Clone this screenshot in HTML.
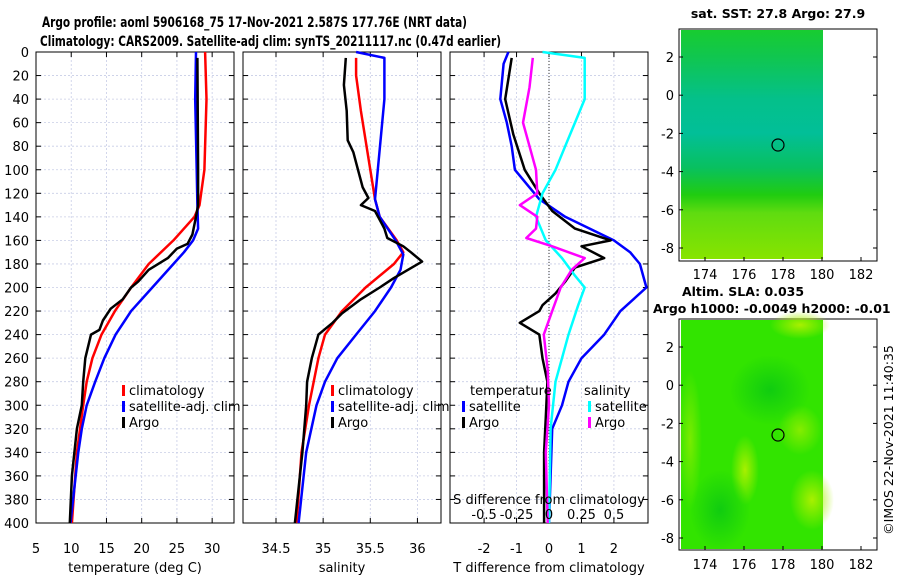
<!DOCTYPE html>
<html><head><meta charset="utf-8"><style>
body{margin:0;background:#fff;}
svg{display:block;font-family:"DejaVu Sans","Liberation Sans",sans-serif;}
</style></head><body>
<svg id="fig" width="900" height="580" viewBox="0 0 900 580">
<defs>
<linearGradient id="sstg" x1="0" y1="0" x2="0" y2="1">
<stop offset="0" stop-color="#18cc30"/><stop offset="0.12" stop-color="#10c650"/><stop offset="0.3" stop-color="#04c08a"/><stop offset="0.45" stop-color="#02bf98"/><stop offset="0.6" stop-color="#08c060"/><stop offset="0.72" stop-color="#20cc10"/><stop offset="0.8" stop-color="#60dc10"/><stop offset="1" stop-color="#88e400"/>
</linearGradient>
<radialGradient id="slab" cx="0.5" cy="0.5" r="0.5"><stop offset="0" stop-color="#a8f000"/><stop offset="1" stop-color="#a8f000" stop-opacity="0"/></radialGradient>
<radialGradient id="slad" cx="0.5" cy="0.5" r="0.5"><stop offset="0" stop-color="#10cc10"/><stop offset="1" stop-color="#10cc10" stop-opacity="0"/></radialGradient>
</defs>
<text x="42" y="27" font-size="14.5" font-weight="bold" textLength="425" lengthAdjust="spacingAndGlyphs">Argo profile: aoml 5906168_75 17-Nov-2021 2.587S 177.76E (NRT data)</text>
<text x="40" y="46" font-size="14.5" font-weight="bold" textLength="461" lengthAdjust="spacingAndGlyphs">Climatology: CARS2009. Satellite-adj clim: synTS_20211117.nc (0.47d earlier)</text>
<g id="plots"></g>
<g>
<text x="778" y="18" font-size="12.5" font-weight="bold" text-anchor="middle">sat. SST: 27.8 Argo: 27.9</text>
<rect x="679" y="29" width="198" height="232" fill="#fff" stroke="#000" stroke-width="1"/>
<rect x="681" y="30" width="142" height="229" fill="url(#sstg)"/>
<circle cx="778" cy="145" r="6" fill="none" stroke="#000" stroke-width="1.2"/>
</g>
<g>
<text x="743" y="296" font-size="12.5" font-weight="bold" text-anchor="middle">Altim. SLA: 0.035</text>
<text x="653" y="313" font-size="12.5" font-weight="bold">Argo h1000: -0.0049 h2000: -0.01</text>
<rect x="679" y="319" width="198" height="231" fill="#fff" stroke="#000" stroke-width="1"/>
<rect x="681" y="320" width="142" height="229" fill="#32e400"/>
<ellipse cx="800" cy="325" rx="30" ry="14" fill="url(#slab)"/>
<ellipse cx="812" cy="500" rx="22" ry="30" fill="url(#slab)"/>
<ellipse cx="745" cy="470" rx="14" ry="35" fill="url(#slab)"/>
<ellipse cx="690" cy="440" rx="12" ry="70" fill="url(#slab)" opacity="0.6"/>
<ellipse cx="800" cy="430" rx="22" ry="25" fill="url(#slab)" opacity="0.7"/>
<ellipse cx="770" cy="390" rx="40" ry="35" fill="url(#slad)"/>
<ellipse cx="720" cy="510" rx="30" ry="40" fill="url(#slad)"/>
<circle cx="778" cy="435" r="6" fill="none" stroke="#000" stroke-width="1.2"/>
</g>
<text transform="translate(893,440) rotate(-90)" font-size="12.5" text-anchor="middle">©IMOS 22-Nov-2021 11:40:35</text>
</svg>
<script>
const depthTicks=[0,20,40,60,80,100,120,140,160,180,200,220,240,260,280,300,320,340,360,380,400];
const tempTicks=[5,10,15,20,25,30];
const salTicks=[34.5,35,35.5,36];
const tdiffTicks=[-2,-1,0,1,2];
const sdiffTicks=[-0.5,-0.25,0,0.25,0.5];
const tClimDepth=[0,40,100,130,140,160,180,200,220,240,260,280,300,340,400];
const tClim=[29.0,29.2,28.9,28.2,27.5,24.5,21,18.5,16.2,14.3,13,12.2,11.7,10.8,10.1];
const tSatDepth=[0,40,100,130,150,160,170,180,200,220,240,260,280,300,320,340,400];
const tSat=[27.7,27.6,27.8,27.9,28,27.3,26,24.5,21.5,18.5,16.3,14.7,13.4,12.2,11.5,11,9.9];
const tArgoDepth=[5,100,130,140,155,163,167,175,185,195,200,210,218,228,236,240,260,280,300,320,360,400];
const tArgo=[27.9,28,28,27.7,27.2,26.5,25,23.7,21,19.5,18.5,17.3,15.6,14.5,14,12.8,12,11.7,11.5,10.8,10.1,9.8];
const sClimDepth=[5,20,50,100,125,140,160,170,180,200,220,240,260,300,340,400];
const sClim=[35.35,35.35,35.4,35.5,35.55,35.6,35.78,35.85,35.75,35.45,35.2,35.02,34.95,34.85,34.77,34.72];
const sSatDepth=[0,5,40,100,125,140,160,172,185,200,220,240,260,280,300,340,400];
const sSat=[35.35,35.65,35.65,35.58,35.55,35.6,35.77,35.85,35.82,35.72,35.55,35.35,35.15,35.02,34.93,34.82,34.74];
const sArgoDepth=[5,28,50,75,85,100,115,124,130,135,150,158,165,170,178,185,192,200,210,222,230,240,260,280,300,340,400];
const sArgo=[35.24,35.22,35.25,35.26,35.32,35.37,35.42,35.48,35.4,35.55,35.65,35.68,35.85,35.93,36.05,35.9,35.75,35.6,35.4,35.2,35.1,34.95,34.88,34.83,34.82,34.78,34.7];
const dtSatDepth=[0,10,40,60,80,100,115,125,140,160,170,180,200,210,220,240,260,280,300,320,400];
const dtSat=[-1.25,-1.4,-1.5,-1.3,-1.15,-1.05,-0.6,-0.3,0.5,2.0,2.5,2.8,3.0,2.6,2.2,1.7,1.0,0.6,0.4,0.1,0.0];
const dtArgoDepth=[5,40,70,100,120,135,150,160,165,175,183,195,205,215,220,230,240,260,280,310,340,400];
const dtArgo=[-1.15,-1.35,-1.1,-0.75,-0.3,0.1,0.8,1.9,1.0,1.7,0.8,0.5,0.2,-0.2,-0.3,-0.9,-0.3,-0.2,-0.05,-0.1,-0.15,-0.15];
const dsSatDepth=[0,5,40,60,80,100,120,140,160,175,190,200,215,240,260,280,320,400];
const dsSat=[-0.05,0.275,0.275,0.2,0.125,0.05,-0.05,-0.1,-0.025,0.1,0.2,0.275,0.225,0.15,0.1,0.05,0.0125,0];
const dsArgoDepth=[5,30,60,80,100,120,130,140,150,158,165,175,185,200,220,240,270,300,340,400];
const dsArgo=[-0.125,-0.15,-0.2,-0.15,-0.1,-0.09,-0.225,-0.09,-0.1,-0.175,0.025,0.275,0.175,0.09,0.025,-0.04,-0.01,0,-0.025,-0.01];
const mapLat=[2,0,-2,-4,-6,-8];
const mapLon=[174,176,178,180,182];

const Y0=52,Y1=523;
const yD=d=>Y0+(d/400)*(Y1-Y0);
const P=[{x0:36,x1:234,lo:5,hi:33.1},{x0:243,x1:441,lo:34.15,hi:36.25},{x0:450,x1:648,lo:-3.05,hi:3.05}];
const sx=(i,v)=>P[i].x0+(v-P[i].lo)/(P[i].hi-P[i].lo)*(P[i].x1-P[i].x0);
const sxS=v=>sx(2,v*4);
const lonX=v=>822+(v-180)*19.5;
const NS='http://www.w3.org/2000/svg';
const root=document.getElementById('plots');
function mk(tag,attrs,parent){const e=document.createElementNS(NS,tag);for(const k in attrs)e.setAttribute(k,attrs[k]);(parent||root).appendChild(e);return e;}
function txt(x,y,s,anchor,size,parent){const t=mk('text',{x:x,y:y,'font-size':size||13,'text-anchor':anchor||'middle'},parent);t.textContent=s;return t;}
function line(xs,ds,fx,color,w){const pts=xs.map((v,k)=>fx(v).toFixed(1)+','+yD(ds[k]).toFixed(1)).join(' ');return mk('polyline',{points:pts,fill:'none',stroke:color,'stroke-width':w||2.5,'stroke-linejoin':'round'});}

const names=['temperature-panel','salinity-panel','difference-panel'];
const xt=[tempTicks,salTicks,tdiffTicks];
const xlab=['temperature (deg C)','salinity','T difference from climatology'];
P.forEach((p,i)=>{
  const g=mk('g',{});
  
  
  depthTicks.forEach(d=>{
    mk('line',{x1:p.x0,x2:p.x1,y1:yD(d),y2:yD(d),stroke:'#c8cde6','stroke-width':0.8,'stroke-dasharray':'2,2'},g);
    mk('line',{x1:p.x0,x2:p.x0+5,y1:yD(d),y2:yD(d),stroke:'#000'},g);
    mk('line',{x1:p.x1-5,x2:p.x1,y1:yD(d),y2:yD(d),stroke:'#000'},g);
  });
  xt[i].forEach(v=>{
    const x=sx(i,v);
    mk('line',{x1:x,x2:x,y1:Y0,y2:Y1,stroke:'#c8cde6','stroke-width':0.8,'stroke-dasharray':'2,2'},g);
    mk('line',{x1:x,x2:x,y1:Y1,y2:Y1-5,stroke:'#000'},g);
    mk('line',{x1:x,x2:x,y1:Y0,y2:Y0+5,stroke:'#000'},g);
    txt(x,553,String(v),'middle',13,g);
  });
  mk('rect',{x:p.x0,y:Y0,width:p.x1-p.x0,height:Y1-Y0,fill:'none',stroke:'#000','stroke-width':1},g);
  const t=txt((p.x0+p.x1)/2,572,xlab[i],'middle',13,g);
  
  
});
depthTicks.forEach(d=>txt(29,yD(d)+5,String(d),'end',13));
mk('line',{x1:sx(2,0),x2:sx(2,0),y1:Y0,y2:Y1,stroke:'#333','stroke-width':1,'stroke-dasharray':'1,2'});

let s;
s=line(tClim,tClimDepth,v=>sx(0,v),'#ff0000');
s=line(tSat,tSatDepth,v=>sx(0,v),'#0000ff');
s=line(tArgo,tArgoDepth,v=>sx(0,v),'#000000');
s=line(sClim,sClimDepth,v=>sx(1,v),'#ff0000');
s=line(sSat,sSatDepth,v=>sx(1,v),'#0000ff');
s=line(sArgo,sArgoDepth,v=>sx(1,v),'#000000');
s=line(dtSat,dtSatDepth,v=>sx(2,v),'#0000ff');
s=line(dtArgo,dtArgoDepth,v=>sx(2,v),'#000000');
s=line(dsSat,dsSatDepth,sxS,'#00ffff');
s=line(dsArgo,dsArgoDepth,sxS,'#ff00ff');

txt(549,504,'S difference from climatology','middle',13);
sdiffTicks.forEach(v=>txt(sxS(v),519,String(v),'middle',13));

function leg(x,y,color,label){const g=mk('g',{});mk('rect',{x:x,y:y-10,width:3,height:11,fill:color},g);txt(x+7,y,label,'start',13,g);return g;}
let L;
L=leg(122,395,'#ff0000','climatology');
L=leg(122,411,'#0000ff','satellite-adj. clim');
L=leg(122,427,'#000000','Argo');
L=leg(331,395,'#ff0000','climatology');
L=leg(331,411,'#0000ff','satellite-adj. clim');
L=leg(331,427,'#000000','Argo');
txt(470,395,'temperature','start',13);
txt(584,395,'salinity','start',13);
L=leg(462,411,'#0000ff','satellite');
L=leg(462,427,'#000000','Argo');
L=leg(588,411,'#00ffff','satellite');
L=leg(588,427,'#ff00ff','Argo');

const svg=document.getElementById('fig');
[[57,38.2,29,261,279],[347,38.2,319,550,569]].forEach(m=>{
  mapLat.forEach((v,k)=>{const y=m[0]+k*m[1];
    const a=document.createElementNS(NS,'line');a.setAttribute('x1',679);a.setAttribute('x2',683);a.setAttribute('y1',y);a.setAttribute('y2',y);a.setAttribute('stroke','#000');svg.appendChild(a);
    const b=document.createElementNS(NS,'line');b.setAttribute('x1',873);b.setAttribute('x2',877);b.setAttribute('y1',y);b.setAttribute('y2',y);b.setAttribute('stroke','#000');svg.appendChild(b);
    const t=document.createElementNS(NS,'text');t.setAttribute('x',674);t.setAttribute('y',y+5);t.setAttribute('font-size',13);t.setAttribute('text-anchor','end');t.textContent=String(v);svg.appendChild(t);});
  mapLon.forEach(v=>{
    const x=lonX(v);
    const a=document.createElementNS(NS,'line');a.setAttribute('x1',x);a.setAttribute('x2',x);a.setAttribute('y1',m[3]-4);a.setAttribute('y2',m[3]);a.setAttribute('stroke','#000');svg.appendChild(a);
    const t=document.createElementNS(NS,'text');t.setAttribute('x',x);t.setAttribute('y',m[4]);t.setAttribute('font-size',13);t.setAttribute('text-anchor','middle');t.textContent=String(v);svg.appendChild(t);});
});
</script>
</body></html>
